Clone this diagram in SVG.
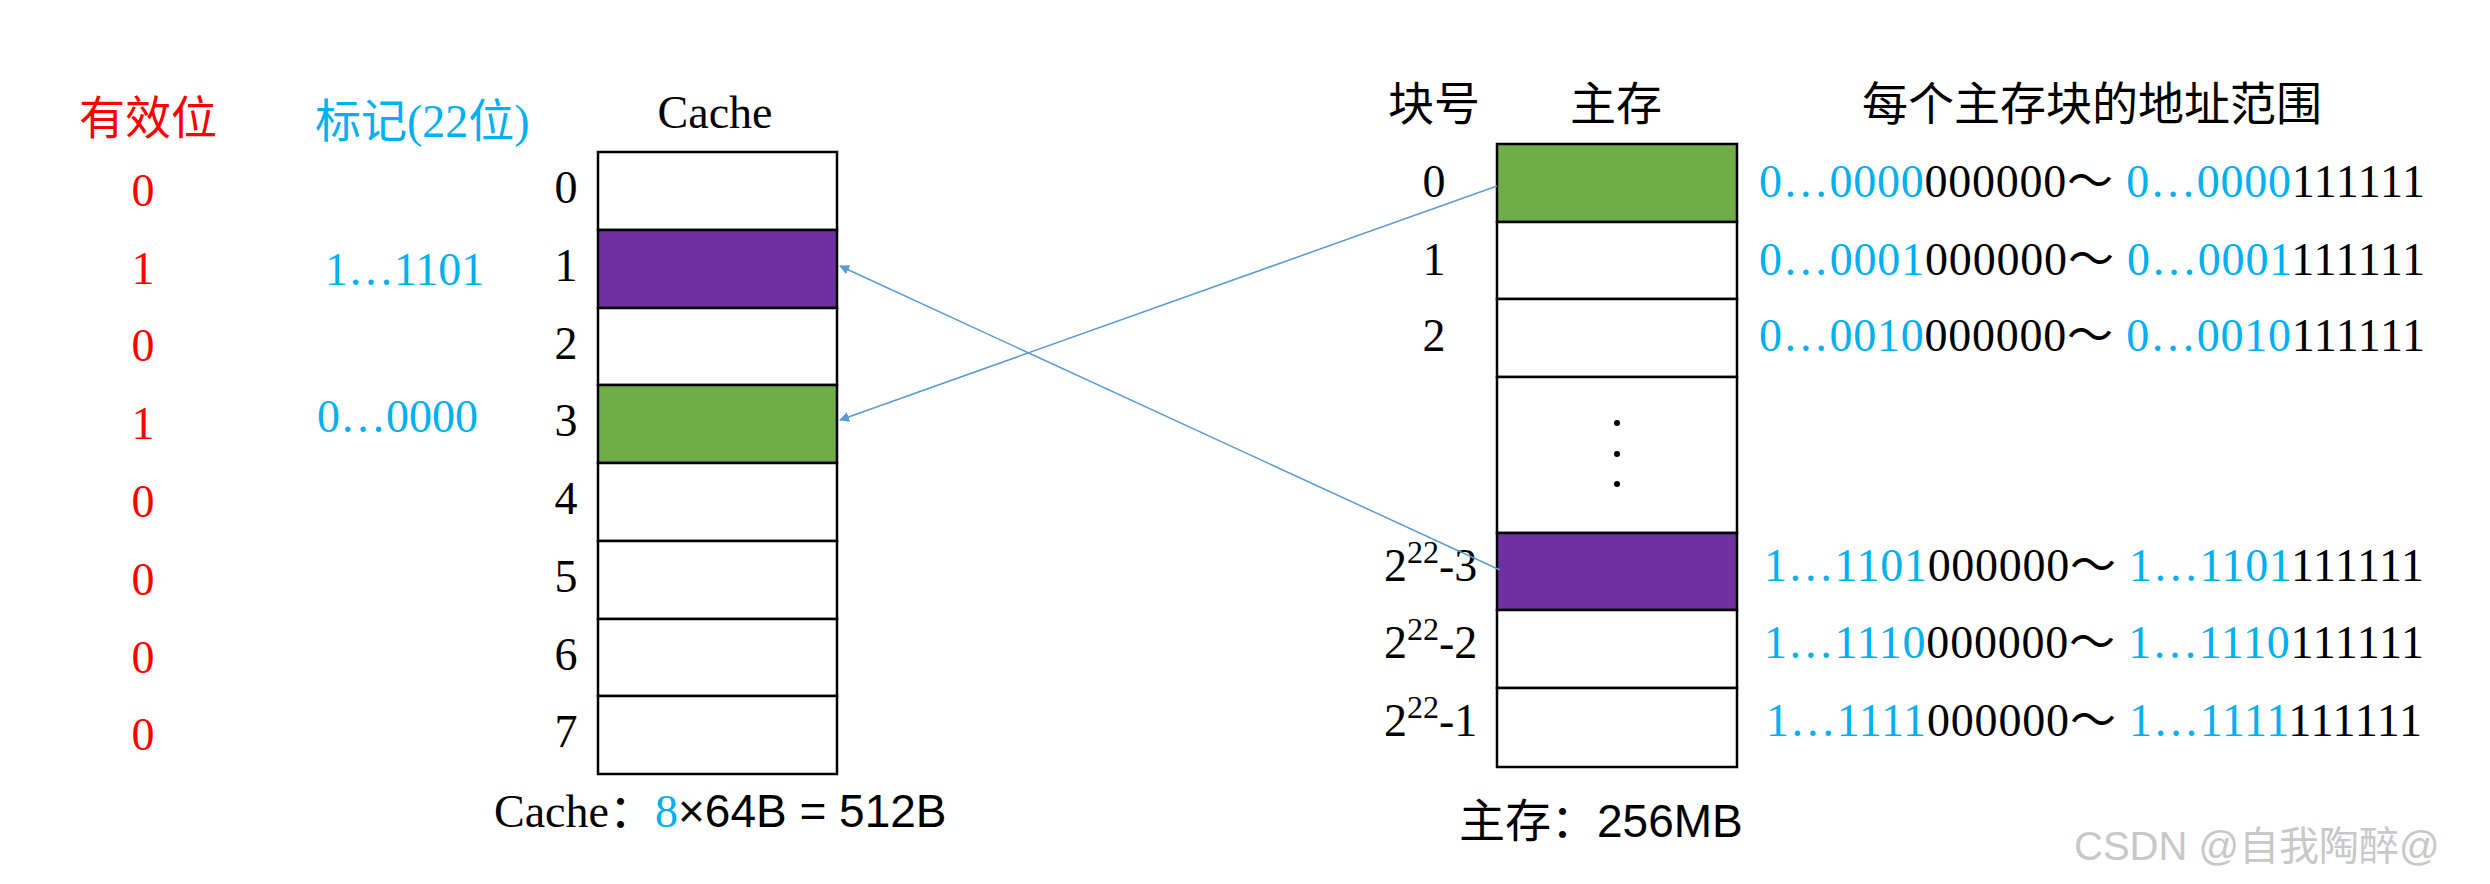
<svg xmlns="http://www.w3.org/2000/svg" width="2490" height="884" viewBox="0 0 2490 884">
<style>
text{font-family:"Liberation Serif","Noto Sans CJK SC",serif;font-size:46px;fill:#000}
.r{fill:#FF0000}.b{fill:#00B0F0}.m{text-anchor:middle}
.s{font-family:"Liberation Sans","Noto Sans CJK SC",sans-serif}
.cell{fill:#fff;stroke:#000;stroke-width:2.5}
.wm{font-family:"Liberation Sans","Noto Sans CJK SC",sans-serif;fill:#c8c8c8;font-size:40px}
</style>
<defs><marker id="ah" markerWidth="10" markerHeight="10" refX="9" refY="5" orient="auto" markerUnits="userSpaceOnUse" viewBox="0 0 10 10"><path d="M0,0 L10,5 L0,10 z" fill="#5B9BD5"/></marker></defs>
<g id="headers">
<text class="r" x="79" y="134">有效位</text>
<text class="b" x="315" y="137">标记(22位)</text>
<text class="m" x="715" y="128">Cache</text>
<text class="m" x="1434" y="120">块号</text>
<text class="m" x="1616" y="120">主存</text>
<text class="m" x="2092" y="120">每个主存块的地址范围</text>
</g>
<g id="valid">
<text class="r m" x="143" y="206">0</text><text class="r m" x="143" y="284">1</text><text class="r m" x="143" y="361">0</text><text class="r m" x="143" y="439">1</text><text class="r m" x="143" y="517">0</text><text class="r m" x="143" y="595">0</text><text class="r m" x="143" y="673">0</text><text class="r m" x="143" y="750">0</text>
</g>
<g id="tags">
<text class="b" x="325" y="285">1…1101</text>
<text class="b" x="317" y="432">0…0000</text>
</g>
<g id="cache">
<rect class="cell" x="598" y="152" width="239" height="78"/>
<rect class="cell" x="598" y="230" width="239" height="78" style="fill:#7030A0"/>
<rect class="cell" x="598" y="308" width="239" height="77"/>
<rect class="cell" x="598" y="385" width="239" height="78" style="fill:#70AD47"/>
<rect class="cell" x="598" y="463" width="239" height="78"/>
<rect class="cell" x="598" y="541" width="239" height="78"/>
<rect class="cell" x="598" y="619" width="239" height="77"/>
<rect class="cell" x="598" y="696" width="239" height="78"/>
<text class="m" x="566" y="203">0</text><text class="m" x="566" y="281">1</text><text class="m" x="566" y="359">2</text><text class="m" x="566" y="436">3</text><text class="m" x="566" y="514">4</text><text class="m" x="566" y="592">5</text><text class="m" x="566" y="670">6</text><text class="m" x="566" y="747">7</text>
<text x="494" y="827">Cache：<tspan class="b">8</tspan><tspan class="s">×64B = 512B</tspan></text>
</g>
<g id="memory">
<rect class="cell" x="1497" y="144" width="240" height="78" style="fill:#70AD47"/>
<rect class="cell" x="1497" y="222" width="240" height="77"/>
<rect class="cell" x="1497" y="299" width="240" height="78"/>
<rect class="cell" x="1497" y="377" width="240" height="156"/>
<rect class="cell" x="1497" y="533" width="240" height="77" style="fill:#7030A0"/>
<rect class="cell" x="1497" y="610" width="240" height="78"/>
<rect class="cell" x="1497" y="688" width="240" height="79"/>
<circle cx="1617" cy="423" r="3"/><circle cx="1617" cy="454" r="3"/><circle cx="1617" cy="484" r="3"/>
<text class="m" x="1434" y="197">0</text><text class="m" x="1434" y="275">1</text><text class="m" x="1434" y="351">2</text>
<text x="1384" y="581">2<tspan dy="-18" font-size="32">22</tspan><tspan dy="18">-3</tspan></text>
<text x="1384" y="658">2<tspan dy="-18" font-size="32">22</tspan><tspan dy="18">-2</tspan></text>
<text x="1384" y="736">2<tspan dy="-18" font-size="32">22</tspan><tspan dy="18">-1</tspan></text>
<text x="1459" y="837">主存：<tspan class="s">256MB</tspan></text>
</g>
<g id="ranges">
<text x="1759" y="197" textLength="666"><tspan class="b">0…0000</tspan>000000～ <tspan class="b">0…0000</tspan>111111</text>
<text x="1759" y="275" textLength="666"><tspan class="b">0…0001</tspan>000000～ <tspan class="b">0…0001</tspan>111111</text>
<text x="1759" y="351" textLength="666"><tspan class="b">0…0010</tspan>000000～ <tspan class="b">0…0010</tspan>111111</text>
<text x="1764" y="581" textLength="660"><tspan class="b">1…1101</tspan>000000～ <tspan class="b">1…1101</tspan>111111</text>
<text x="1764" y="658" textLength="660"><tspan class="b">1…1110</tspan>000000～ <tspan class="b">1…1110</tspan>111111</text>
<text x="1766" y="736" textLength="656"><tspan class="b">1…1111</tspan>000000～ <tspan class="b">1…1111</tspan>111111</text>
</g>
<g id="connectors" stroke="#5B9BD5" stroke-width="1.5" fill="none">
<line x1="1497" y1="186" x2="840" y2="420" marker-end="url(#ah)"/>
<line x1="1500" y1="570" x2="840" y2="266" marker-end="url(#ah)"/>
</g>
<text class="wm" x="2074" y="860">CSDN @自我陶醉@</text>
</svg>
